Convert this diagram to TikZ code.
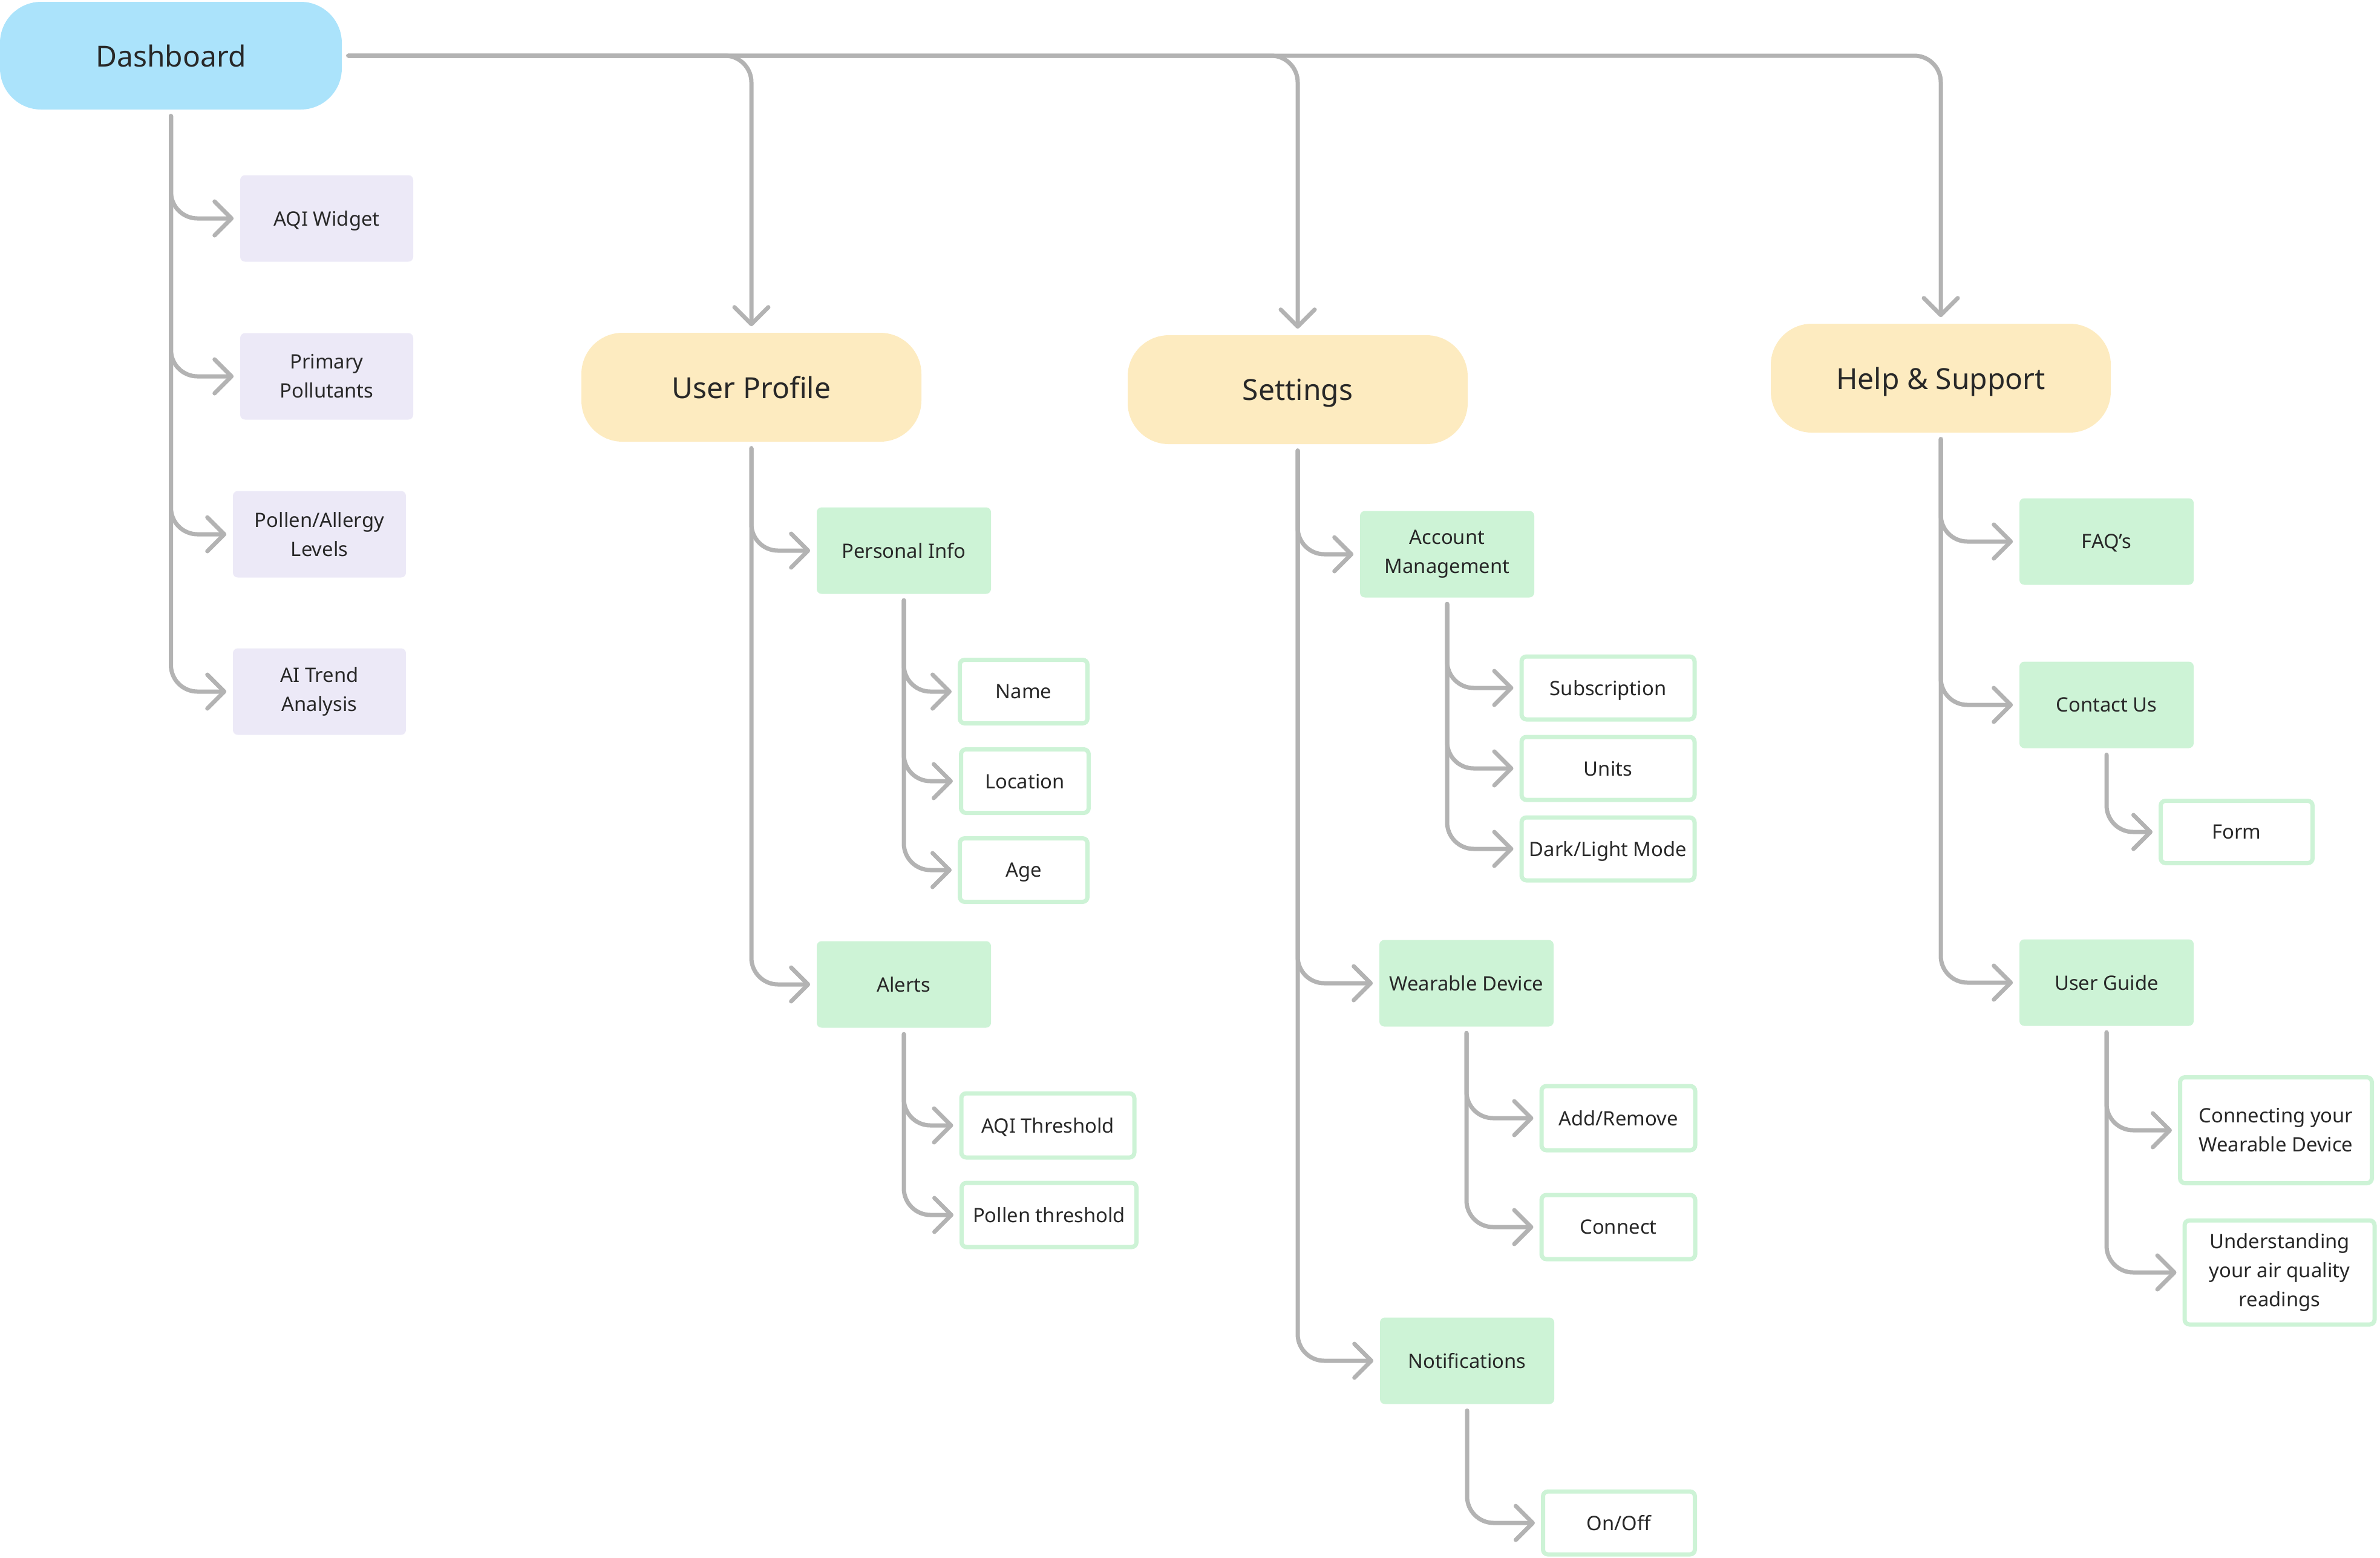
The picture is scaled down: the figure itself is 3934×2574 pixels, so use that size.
\documentclass[tikz,border=0pt]{standalone}
\usepackage{fontspec}
\setmainfont{Noto Sans}
\usetikzlibrary{arrows.meta}
\definecolor{dashblue}{RGB}{171,227,251}
\definecolor{secyellow}{RGB}{253,235,192}
\definecolor{lav}{RGB}{236,233,247}
\definecolor{mint}{RGB}{205,243,214}
\definecolor{linegray}{RGB}{179,179,179}
\definecolor{txt}{RGB}{40,40,40}
\tikzset{
  bigbox/.style={rounded corners=17pt, inner sep=0pt, minimum width=140.5pt, minimum height=45pt,
    text=txt, font=\fontsize{12}{15}\selectfont, align=center, text depth=0pt},
  dashbox/.style={bigbox, fill=dashblue, minimum width=141.25pt, minimum height=44.5pt},
  secbox/.style={bigbox, fill=secyellow},
  small/.style={inner sep=0pt, text=txt, font=\fontsize{8.2}{12}\selectfont, align=center},
  oneline/.style={text depth=0pt},
  lavbox/.style={small, fill=lav, rounded corners=2pt, minimum width=71.5pt, minimum height=35.75pt},
  mintbox/.style={small, fill=mint, rounded corners=2pt, minimum width=72pt, minimum height=35.75pt},
  outbox/.style={small, fill=white, draw=mint, line width=1.75pt, rounded corners=2pt},
  conn/.style={draw=linegray, line width=1.75pt, rounded corners=11pt, line cap=round,
    shorten <=2.5pt, shorten >=2.5pt, -{Straight Barb[length=7pt,width=14pt,round]}}
}
\begin{document}
\begin{tikzpicture}[x=0.25pt, y=-0.25pt]
\useasboundingbox (0,0) rectangle (3934,2574);
% top level
\node[dashbox] (dash) at (282.5,92) {Dashboard};
\node[secbox] (prof) at (1242,640) {User Profile};
\node[secbox] (sett) at (2145,644) {Settings};
\node[secbox] (help) at (3208,625) {Help \& Support};
% dashboard children
\node[lavbox, oneline] (aqi) at (540,361) {AQI Widget};
\node[lavbox] (prim) at (540,622) {Primary\\Pollutants};
\node[lavbox] (pollen) at (528,883) {Pollen/Allergy\\Levels};
\node[lavbox] (trend) at (528,1143) {AI Trend\\Analysis};
% user profile children
\node[mintbox, oneline] (pinfo) at (1494,910) {Personal Info};
\node[mintbox, oneline] (alerts) at (1494,1627) {Alerts};
\node[outbox, oneline, minimum width=52.75pt, minimum height=26.25pt] (name) at (1692,1143) {Name};
\node[outbox, oneline, minimum width=52.75pt, minimum height=26.25pt] (loc) at (1694,1291) {Location};
\node[outbox, oneline, minimum width=52.75pt, minimum height=26.25pt] (age) at (1692,1438) {Age};
\node[outbox, oneline, minimum width=71.5pt, minimum height=26.5pt] (aqith) at (1732,1860) {AQI Threshold};
\node[outbox, oneline, minimum width=72.25pt, minimum height=26.5pt] (pollth) at (1734,2008) {Pollen threshold};
% settings children
\node[mintbox] (acct) at (2392,916) {Account\\Management};
\node[mintbox, oneline] (wear) at (2424,1625) {Wearable Device};
\node[mintbox, oneline] (notif) at (2425,2249) {Notifications};
\node[outbox, oneline, minimum width=71.5pt, minimum height=26pt] (subs) at (2658,1137) {Subscription};
\node[outbox, oneline, minimum width=71.5pt, minimum height=26pt] (units) at (2658,1270) {Units};
\node[outbox, oneline, minimum width=71.5pt, minimum height=26pt] (dark) at (2658,1403) {Dark/Light Mode};
\node[outbox, oneline, minimum width=63.5pt, minimum height=26.5pt] (addrem) at (2675,1848) {Add/Remove};
\node[outbox, oneline, minimum width=63.5pt, minimum height=26.5pt] (connect) at (2675,2028) {Connect};
\node[outbox, oneline, minimum width=62.75pt, minimum height=26pt] (onoff) at (2676,2517) {On/Off};
% help children
\node[mintbox, oneline] (faq) at (3482,895) {FAQ’s};
\node[mintbox, oneline] (contact) at (3482,1165) {Contact Us};
\node[mintbox, oneline] (guide) at (3482,1624) {User Guide};
\node[outbox, oneline, minimum width=62.75pt, minimum height=25.75pt] (form) at (3697,1375) {Form};
\node[outbox, minimum width=79.25pt, minimum height=43.75pt] (connw) at (3762,1868) {Connecting your\\Wearable Device};
\node[outbox, minimum width=78.5pt, minimum height=43pt] (under) at (3768,2103) {Understanding\\your air quality\\readings};
% connectors: top level
\draw[conn] (dash.east) -| (help.north);
\draw[conn] (dash.east) -| (sett.north);
\draw[conn] (dash.east) -| (prof.north);
% dashboard
\draw[conn] (dash.south) |- (trend.west);
\draw[conn] (dash.south) |- (pollen.west);
\draw[conn] (dash.south) |- (prim.west);
\draw[conn] (dash.south) |- (aqi.west);
% user profile
\draw[conn] (prof.south) |- (alerts.west);
\draw[conn] (prof.south) |- (pinfo.west);
\draw[conn] (pinfo.south) |- (age.west);
\draw[conn] (pinfo.south) |- (loc.west);
\draw[conn] (pinfo.south) |- (name.west);
\draw[conn] (alerts.south) |- (pollth.west);
\draw[conn] (alerts.south) |- (aqith.west);
% settings
\draw[conn] (sett.south) |- (notif.west);
\draw[conn] (sett.south) |- (wear.west);
\draw[conn] (sett.south) |- (acct.west);
\draw[conn] (acct.south) |- (dark.west);
\draw[conn] (acct.south) |- (units.west);
\draw[conn] (acct.south) |- (subs.west);
\draw[conn] (wear.south) |- (connect.west);
\draw[conn] (wear.south) |- (addrem.west);
\draw[conn] (notif.south) |- (onoff.west);
% help
\draw[conn] (help.south) |- (guide.west);
\draw[conn] (help.south) |- (contact.west);
\draw[conn] (help.south) |- (faq.west);
\draw[conn] (contact.south) |- (form.west);
\draw[conn] (guide.south) |- (under.west);
\draw[conn] (guide.south) |- (connw.west);
\end{tikzpicture}
\end{document}
